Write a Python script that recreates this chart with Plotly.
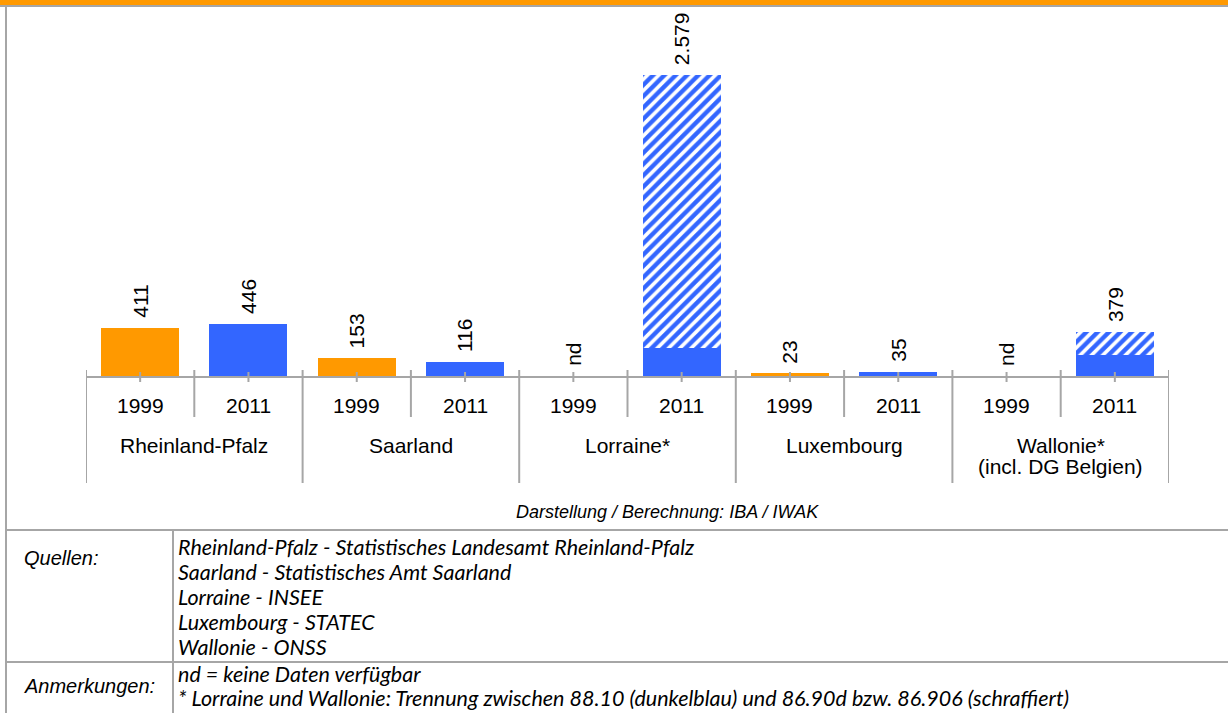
import plotly.graph_objects as go

# ---- data ----
regions = ["Rheinland-Pfalz", "Saarland", "Lorraine*", "Luxembourg", "Wallonie*<br>(incl. DG Belgien)"]
years = ["1999", "2011"]
values_1999 = [411, 153, None, 23, None]          # None = nd
values_2011_total = [446, 116, 2579, 35, 379]
values_2011_solid = [446, 116, 240, 35, 180]      # 88.10 (dunkelblau)
value_labels_1999 = ["411", "153", "nd", "23", "nd"]
value_labels_2011 = ["446", "116", "2.579", "35", "379"]
source_lines = [
    "Rheinland-Pfalz - Statistisches Landesamt Rheinland-Pfalz",
    "Saarland - Statistisches Amt Saarland",
    "Lorraine - INSEE",
    "Luxembourg - STATEC",
    "Wallonie - ONSS",
]
note_lines = [
    "nd = keine Daten verfügbar",
    "* Lorraine und Wallonie: Trennung zwischen 88.10 (dunkelblau) und 86.90d bzw. 86.906 (schraffiert)",
]
credit = "Darstellung / Berechnung: IBA / IWAK"

W, H = 1228, 713
ORANGE = "#FF9900"
BLUE = "#3366FF"
GRAY = "#A6A6A6"
FONT = "Liberation Sans"
SRC_FONT = "Lato"

def px(x):
    return x / W

def py(y):
    return 1 - y / H

x1999 = [2 * i for i in range(len(regions))]
x2011 = [2 * i + 1 for i in range(len(regions))]
hatched = [t - s for t, s in zip(values_2011_total, values_2011_solid)]

fig = go.Figure()
fig.add_trace(go.Bar(x=x1999, y=values_1999, width=0.72, marker=dict(color=ORANGE, line_width=0),
                     showlegend=False, hoverinfo="skip"))
fig.add_trace(go.Bar(x=x2011, y=values_2011_solid, width=0.72, marker=dict(color=BLUE, line_width=0),
                     showlegend=False, hoverinfo="skip"))
fig.add_trace(go.Bar(x=x2011, y=[h if h > 0 else None for h in hatched], width=0.72,
                     marker=dict(color="white", line_width=0,
                                 pattern=dict(shape="/", fgcolor=BLUE, bgcolor="white",
                                              fgopacity=1, fillmode="overlay",
                                              size=8, solidity=0.55)),
                     showlegend=False, hoverinfo="skip"))

annotations = []
LBL = 21
# value labels
for i in range(len(regions)):
    v = values_1999[i]
    annotations.append(dict(x=x1999[i], y=v if v is not None else 0, xref="x", yref="y",
                            text=value_labels_1999[i], textangle=-90, showarrow=False,
                            yanchor="bottom", xanchor="center", yshift=8,
                            font=dict(family=FONT, size=LBL, color="black")))
    annotations.append(dict(x=x2011[i], y=values_2011_total[i], xref="x", yref="y",
                            text=value_labels_2011[i], textangle=-90, showarrow=False,
                            yanchor="bottom", xanchor="center", yshift=8,
                            font=dict(family=FONT, size=LBL, color="black")))
# year and region labels
for i in range(len(regions)):
    for xx, yr in ((x1999[i], years[0]), (x2011[i], years[1])):
        annotations.append(dict(x=xx, y=py(405), xref="x", yref="paper", text=yr,
                                showarrow=False, yanchor="middle",
                                font=dict(family=FONT, size=LBL, color="black")))
    for j, part in enumerate(regions[i].split("<br>")):
        annotations.append(dict(x=2 * i + 0.5, y=py(445 + 21 * j), xref="x", yref="paper", text=part,
                                showarrow=False, yanchor="middle",
                                font=dict(family=FONT, size=LBL, color="black")))

annotations.append(dict(x=px(667), y=py(512), xref="paper", yref="paper", text="<i>" + credit + "</i>",
                        showarrow=False, yanchor="middle",
                        font=dict(family=FONT, size=18, color="black")))
annotations.append(dict(x=px(22), y=py(558), xref="paper", yref="paper", text="<i>Quellen:</i>",
                        showarrow=False, xanchor="left", yanchor="middle",
                        font=dict(family=FONT, size=20, color="black")))
annotations.append(dict(x=px(22), y=py(686), xref="paper", yref="paper", text="<i>Anmerkungen:</i>",
                        showarrow=False, xanchor="left", yanchor="middle",
                        font=dict(family=FONT, size=20, color="black")))
for k, line in enumerate(source_lines):
    annotations.append(dict(x=px(176), y=py(547 + 25 * k), xref="paper", yref="paper",
                            text="<i>" + line + "</i>", showarrow=False, xanchor="left", yanchor="middle",
                            font=dict(family=SRC_FONT, size=21.5, color="black")))
for k, line in enumerate(note_lines):
    annotations.append(dict(x=px(176), y=py(674 + 24 * k), xref="paper", yref="paper",
                            text="<i>" + line + "</i>", showarrow=False, xanchor="left", yanchor="middle",
                            font=dict(family=SRC_FONT, size=21.5, color="black")))

shapes = []
# orange header band and gray rule
shapes.append(dict(type="rect", xref="paper", yref="paper", x0=0, x1=1, y0=py(5), y1=1,
                   fillcolor=ORANGE, line_width=0, layer="above"))
shapes.append(dict(type="line", xref="paper", yref="paper", x0=0, x1=1, y0=py(6), y1=py(6),
                   line=dict(color=GRAY, width=2)))
# left frame
shapes.append(dict(type="line", xref="paper", yref="paper", x0=px(6), x1=px(6), y0=py(6), y1=0,
                   line=dict(color=GRAY, width=2)))
# table lines
for yy in (530, 662):
    shapes.append(dict(type="line", xref="paper", yref="paper", x0=px(6), x1=1, y0=py(yy), y1=py(yy),
                       line=dict(color=GRAY, width=2)))
shapes.append(dict(type="line", xref="paper", yref="paper", x0=px(173), x1=px(173), y0=py(530), y1=0,
                   line=dict(color=GRAY, width=2)))
# axis ticks
n = 2 * len(regions)
for i in range(n):
    shapes.append(dict(type="line", xref="x", yref="paper", x0=i, x1=i, y0=py(372), y1=py(382),
                       line=dict(color=GRAY, width=2)))
for b in range(n + 1):
    xb = b - 0.5
    bottom = 483 if b % 2 == 0 else 417
    shapes.append(dict(type="line", xref="x", yref="paper", x0=xb, x1=xb, y0=py(370), y1=py(bottom),
                       line=dict(color=GRAY, width=2)))

fig.update_layout(
    width=W, height=H,
    margin=dict(l=0, r=0, t=0, b=0),
    paper_bgcolor="white", plot_bgcolor="white",
    barmode="stack", bargap=0,
    xaxis=dict(domain=[px(86), px(1169)], range=[-0.5, n - 0.5], showticklabels=False,
               showgrid=False, zeroline=False, showline=True, linecolor=GRAY, linewidth=2,
               ticks=""),
    yaxis=dict(domain=[py(376), py(20)], range=[0, 3050], showticklabels=False, showgrid=False,
               zeroline=False, showline=False, ticks=""),
    annotations=annotations,
    shapes=shapes,
)

fig.write_html("out.html")
